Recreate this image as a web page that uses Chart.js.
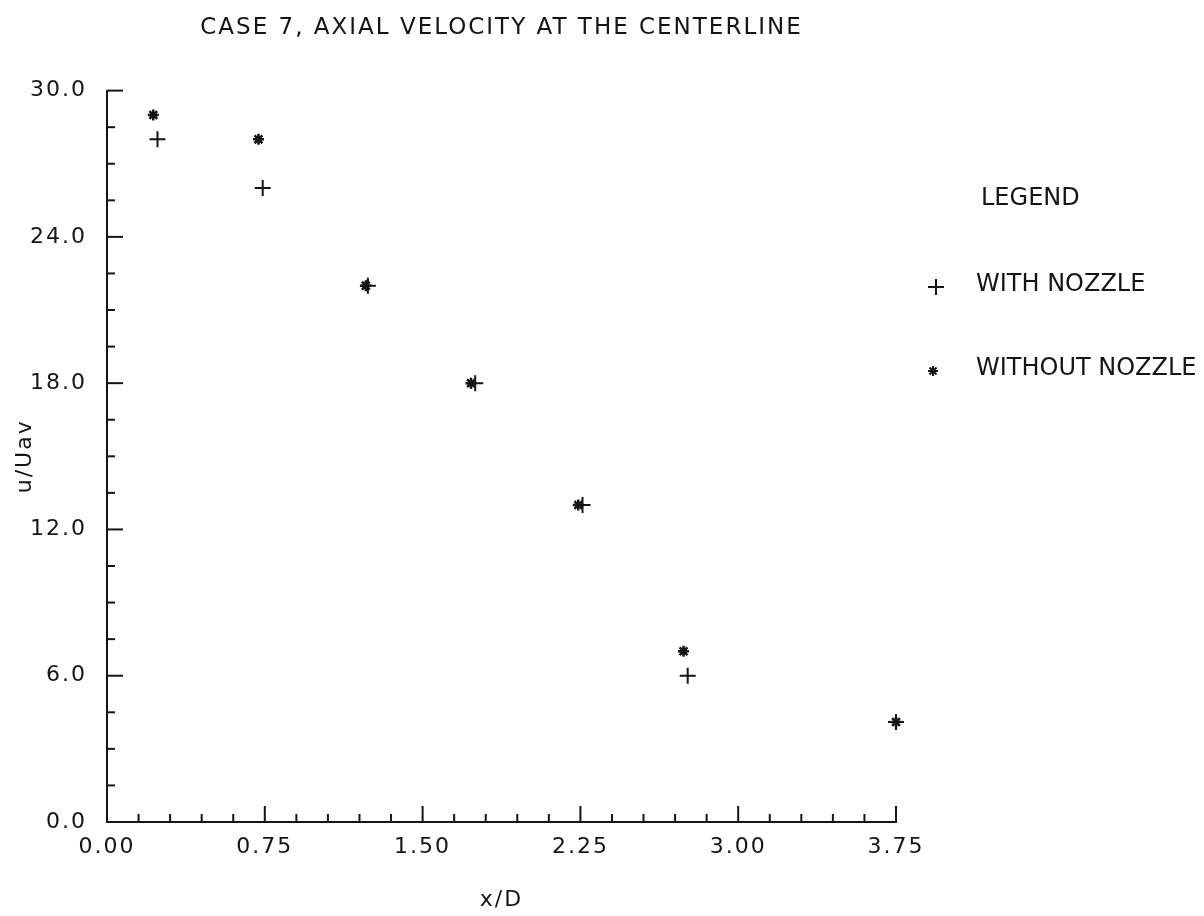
<!DOCTYPE html>
<html>
<head>
<meta charset="utf-8">
<script src="https://cdn.jsdelivr.net/npm/chart.js@4"></script>
<style>
  html, body { margin: 0; padding: 0; background: #fff; }
</style>
</head>
<body>
<canvas id="case7-centerline" width="1204" height="916"></canvas>
<script>
// values
const xWithNozzle = [0.24, 0.74, 1.24, 1.75, 2.26, 2.76, 3.75];
const uWithNozzle = [28.0, 26.0, 22.0, 18.0, 13.0, 6.0, 4.1];
const xWithoutNozzle = [0.22, 0.72, 1.23, 1.73, 2.24, 2.74, 3.75];
const uWithoutNozzle = [29.0, 28.0, 22.0, 18.0, 13.0, 7.0, 4.1];

const xTickLabels = ['0.00', '0.75', '1.50', '2.25', '3.00', '3.75'];
const yTickLabels = ['0.0', '6.0', '12.0', '18.0', '24.0', '30.0'];

const ink = '#151515';
const plotFont = 'DejaVu Sans';

const toPoints = (xs, ys) => xs.map((x, i) => ({ x: x, y: ys[i] }));

// plotter lettering is spaced out a bit
const spacedText = {
  id: 'spacedText',
  beforeDraw(chart) {
    chart.ctx.letterSpacing = '2px';
  }
};

// small inward ticks, long ones at the labelled values
const innerTicks = {
  id: 'innerTicks',
  afterDatasetsDraw(chart) {
    const { ctx, chartArea } = chart;
    const xs = chart.scales.x, ys = chart.scales.y;
    ctx.save();
    ctx.strokeStyle = ink;
    ctx.lineWidth = 2;
    xs.ticks.forEach((t, i) => {
      const px = xs.getPixelForValue(t.value);
      const len = i % 5 === 0 ? 16 : 8;
      ctx.beginPath();
      ctx.moveTo(px, chartArea.bottom);
      ctx.lineTo(px, chartArea.bottom - len);
      ctx.stroke();
    });
    ys.ticks.forEach((t, i) => {
      const py = ys.getPixelForValue(t.value);
      const len = i % 4 === 0 ? 16 : 8;
      ctx.beginPath();
      ctx.moveTo(chartArea.left, py);
      ctx.lineTo(chartArea.left + len, py);
      ctx.stroke();
    });
    ctx.restore();
  }
};

// legend block on the right like the plotter output
const sideLegend = {
  id: 'sideLegend',
  afterDraw(chart) {
    const ctx = chart.ctx;
    ctx.save();
    ctx.letterSpacing = '0px';
    ctx.fillStyle = ink;
    ctx.strokeStyle = ink;
    ctx.lineWidth = 2;
    ctx.font = '24px "' + plotFont + '"';
    ctx.textBaseline = 'middle';
    ctx.textAlign = 'left';
    ctx.fillText('LEGEND', 981, 199);
    const rows = [285, 369];
    chart.data.datasets.forEach((ds, i) => {
      const y = rows[i];
      Chart.helpers.drawPoint(ctx, {
        pointStyle: ds.pointStyle,
        radius: i === 0 ? 8 : 5,
        rotation: 0,
        borderWidth: 2
      }, i === 0 ? 936 : 933, y + 2);
      ctx.fillText(ds.label, 976, y);
    });
    ctx.restore();
  }
};

new Chart(document.getElementById('case7-centerline'), {
  type: 'scatter',
  data: {
    datasets: [{
      label: 'WITH NOZZLE',
      data: toPoints(xWithNozzle, uWithNozzle),
      pointStyle: 'cross',
      pointRadius: 8,
      borderColor: ink,
      backgroundColor: ink,
      borderWidth: 2,
      clip: false
    }, {
      label: 'WITHOUT NOZZLE',
      data: toPoints(xWithoutNozzle, uWithoutNozzle),
      pointStyle: 'star',
      pointRadius: 5.5,
      borderColor: ink,
      backgroundColor: ink,
      borderWidth: 2.5,
      clip: false
    }]
  },
  options: {
    responsive: false,
    animation: false,
    layout: {
      padding: { left: 0, right: 308, top: 0, bottom: 0 }
    },
    scales: {
      x: {
        type: 'linear',
        min: 0,
        max: 3.75,
        afterFit: (scale) => { scale.height = 94; },
        grid: { display: false, drawTicks: false },
        border: { display: true, color: ink, width: 2 },
        ticks: {
          stepSize: 0.15,
          autoSkip: false,
          maxRotation: 0,
          padding: 12,
          color: ink,
          font: { family: plotFont, size: 22 },
          callback: (value, index) => index % 5 === 0 ? xTickLabels[index / 5] : ''
        },
        title: {
          display: true,
          text: 'x/D',
          color: ink,
          font: { family: plotFont, size: 22 },
          padding: { top: 0, bottom: 3 }
        }
      },
      y: {
        min: 0,
        max: 30,
        afterFit: (scale) => { scale.width = 107; },
        grid: { display: false, drawTicks: false },
        border: { display: true, color: ink, width: 2 },
        ticks: {
          stepSize: 1.5,
          autoSkip: false,
          padding: 20,
          color: ink,
          font: { family: plotFont, size: 22 },
          callback: (value, index) => index % 4 === 0 ? yTickLabels[index / 4] : ''
        },
        title: {
          display: true,
          text: 'u/Uav',
          color: ink,
          font: { family: plotFont, size: 22 },
          padding: { top: 12, bottom: 0 }
        }
      }
    },
    plugins: {
      legend: { display: false },
      tooltip: { enabled: false },
      title: {
        display: true,
        fullSize: false,
        text: 'CASE 7, AXIAL VELOCITY AT THE CENTERLINE',
        color: ink,
        font: { family: plotFont, size: 23, weight: 'normal', lineHeight: 1.2 },
        padding: { top: 14, bottom: 49 }
      }
    }
  },
  plugins: [spacedText, innerTicks, sideLegend]
});
</script>
</body>
</html>
